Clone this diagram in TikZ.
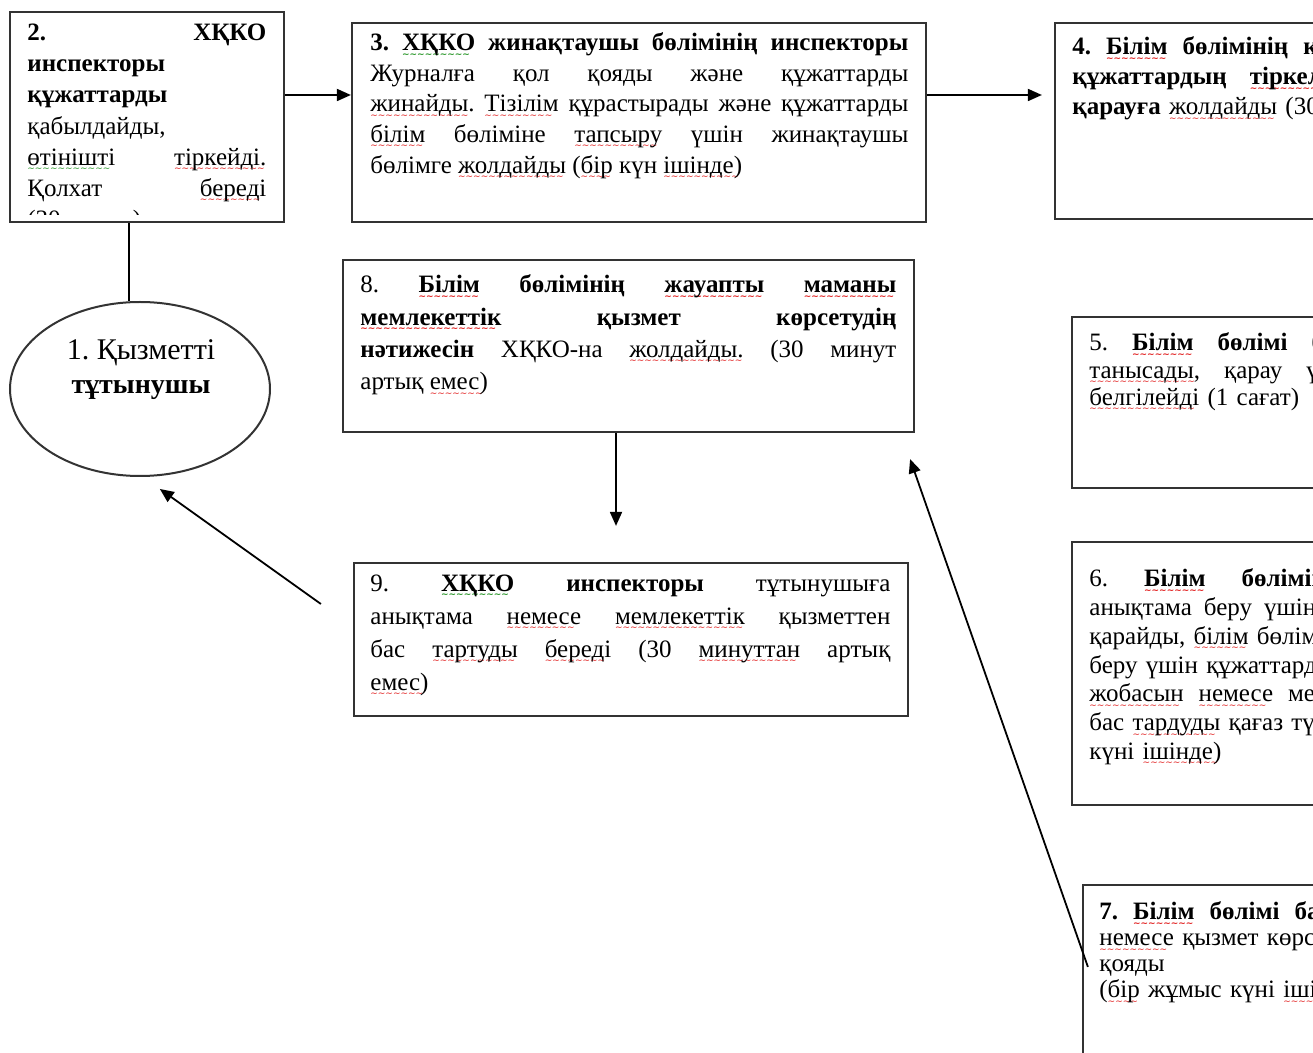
\documentclass[tikz,border=0pt]{standalone}
\usepackage{fontspec}
\setmainfont{Liberation Serif}
\newfontfamily\wavefont{DejaVu Sans}
\usepackage{tikz}
\usetikzlibrary{arrows.meta,shapes.geometric}
\usepackage{xcolor}
\definecolor{spellred}{RGB}{225,30,30}
\definecolor{spellgreen}{RGB}{40,150,40}
\newcommand\sqw[2]{\leavevmode\setbox0\hbox{#2}\rlap{\textcolor{#1}{\lower3.2pt\hbox to\wd0{\wavefont\fontsize{4.5}{4.5}\selectfont\leaders\hbox{\char"007E}\hfill}}}\box0\relax}
\newcommand\sqr[1]{\sqw{spellred}{#1}}
\newcommand\sqg[1]{\sqw{spellgreen}{#1}}
\newcommand\wide[2]{{\spaceskip=#1\xspaceskip=#1#2}}
\hyphenpenalty=10000
\exhyphenpenalty=10000
\frenchspacing
\begin{document}
\frenchspacing
\begin{tikzpicture}[x=0.5pt,y=-0.5pt,>={Triangle[length=7pt,width=6pt]},
box/.style={draw=black!80,line width=1.1pt,rectangle,inner sep=0pt},
txt/.style={anchor=north west,inner sep=0pt,align=justify,text width=269pt,font=\fontsize{12.5}{15.3}\selectfont},
rtxt/.style={anchor=north west,inner sep=0pt,align=left,text width=420pt,font=\fontsize{12.5}{15}\selectfont},
arr/.style={->,line width=0.9pt}]
\useasboundingbox (0,0) rectangle (1313,1053);
\clip (0,0) rectangle (1313,1053);
\node[box,minimum width=137pt,minimum height=105pt](b2) at (147,117){};
\node[box,minimum width=287pt,minimum height=99.5pt](b3) at (639,122.5){};
\node[box,minimum width=287pt,minimum height=98pt](b4) at (1342,121){};
\node[box,minimum width=285.5pt,minimum height=86pt](b8) at (628.5,346){};
\node[box,minimum width=287pt,minimum height=85.5pt](b5) at (1359,402.5){};
\node[box,minimum width=287pt,minimum height=131.5pt](b6) at (1359,673.5){};
\node[box,minimum width=287pt,minimum height=100pt](b7) at (1370,985){};
\node[box,minimum width=277pt,minimum height=76.5pt](b9) at (631,639.5){};
\node[draw=black!80,line width=1pt,ellipse,minimum width=130pt,minimum height=87pt,inner sep=0pt](cons) at (140,389){};
\node[align=center,inner sep=0pt,font=\fontsize{14}{17}\selectfont](t1) at (141,370){{\fontsize{15}{17}\selectfont 1. Қызметті}\\\textbf{тұтынушы}};
\begin{scope}
\clip ([yshift=4.5pt]b2.south west) rectangle (b2.north east);
\node[txt,text width=119.5pt,font=\fontsize{12.5}{15.6}\selectfont](t2) at (27,23.5){\textbf{2. ХҚКО}\linebreak \textbf{инспекторы}\\ \textbf{құжаттарды}\\ қабылдайды,\\ \sqg{өтінішті} \sqr{тіркейді.}\linebreak Қолхат \sqr{береді}\linebreak (30 минут)};
\end{scope}
\node[txt](t3) at (370,32.5){\textbf{3. \sqg{ХҚКО} жинақтаушы бөлімінің инспекторы}\linebreak Журналға қол қояды және құжаттарды\linebreak \sqr{жинайды.} \sqr{Тізілім} құрастырады және құжаттарды\linebreak \sqr{білім} бөліміне \sqr{тапсыру} үшін жинақтаушы\linebreak бөлімге \sqr{жолдайды} (\sqr{бір} күн \sqr{ішінде)}};
\node[rtxt](t4) at (1072,36.5){\wide{7.5pt}{\textbf{4. \sqr{Білім} бөлімінің кеңсесі құжаттарды алып,}}\\ \wide{11.5pt}{\textbf{құжаттардың \sqr{тіркелуін} жүргізеді, басшыға}}\\ \textbf{қарауға} \sqr{жолдайды} (30 минут)};
\node[txt,font=\fontsize{12.5}{16.2}\selectfont,text width=268pt](t8) at (360,274.5){8. \textbf{\sqr{Білім} бөлімінің \sqr{жауапты} \sqr{маманы}}\linebreak \textbf{\sqr{мемлекеттік} қызмет көрсетудің}\linebreak \textbf{нәтижесін} ХҚКО-на \sqr{жолдайды.} (30 минут\linebreak артық \sqr{емес)}};
\node[rtxt,font=\fontsize{12.5}{13.7}\selectfont](t5) at (1089,332.5){\wide{12pt}{5. \textbf{\sqr{Білім} бөлімі басшысы құжаттармен}}\\ \wide{12pt}{\sqr{танысады,} қарау үшін жауапты орындаушыны}\\ \sqr{белгілейді} (1 сағат)};
\node[rtxt,font=\fontsize{12.5}{14.4}\selectfont](t6) at (1089,568.5){\wide{18pt}{6. \textbf{\sqr{Білім} бөлімінің жауапты маманы}}\\ \wide{6pt}{анықтама беру үшін құжаттарды}\\ қарайды, \sqr{білім} бөлімінің басшысына қол қоюға\\ беру үшін құжаттардың және анықтаманың\\ \wide{7.5pt}{\sqr{жобасын} \sqr{немесе} мемлекеттік қызметтен}\\ бас \sqr{тардуды} қағаз түрінде (бір жұмыс\\ күні \sqr{ішінде)}};
\node[rtxt,font=\fontsize{12.5}{13}\selectfont](t7) at (1099,901.5){\wide{7.5pt}{\textbf{7. \sqr{Білім} бөлімі басшысы анықтамаға}}\\ \sqr{немесе} қызмет көрсетуден бас тартуға қол\\ қояды\\ (\sqr{бір} жұмыс күні \sqr{ішінде)}};
\node[txt,font=\fontsize{12.5}{16.5}\selectfont,text width=260pt](t9) at (370,574.5){9. \textbf{\sqg{ХҚКО} инспекторы} тұтынушыға\linebreak анықтама \sqr{немесе} \sqr{мемлекеттік} қызметтен\linebreak бас \sqr{тартуды} \sqr{береді} (30 \sqr{минуттан} артық\linebreak \sqr{емес)}};
\coordinate(a2) at ([yshift=11pt]b2.east);
\coordinate(a3) at ([yshift=13.75pt]b3.east);
\coordinate(a8) at ([xshift=-6.25pt]b8.south);
\coordinate(l2) at ([xshift=-9pt]b2.south);
\draw[arr](a2)--(a2-|b3.west);
\draw[arr,shorten >=6pt](a3)--(a3-|b4.west);
\draw[line width=0.9pt](l2)--(l2|-cons.north);
\draw[arr,shorten >=18pt](a8)--(a8|-b9.north);
\draw[arr,shorten >=10.3pt]([shift={(-16pt,17.75pt)}]b9.west)--(cons.-88);
\draw[arr]([shift={(3pt,-41.5pt)}]b7.north west)--([shift={(-2.5pt,-13pt)}]b8.south east);
\end{tikzpicture}
\end{document}
